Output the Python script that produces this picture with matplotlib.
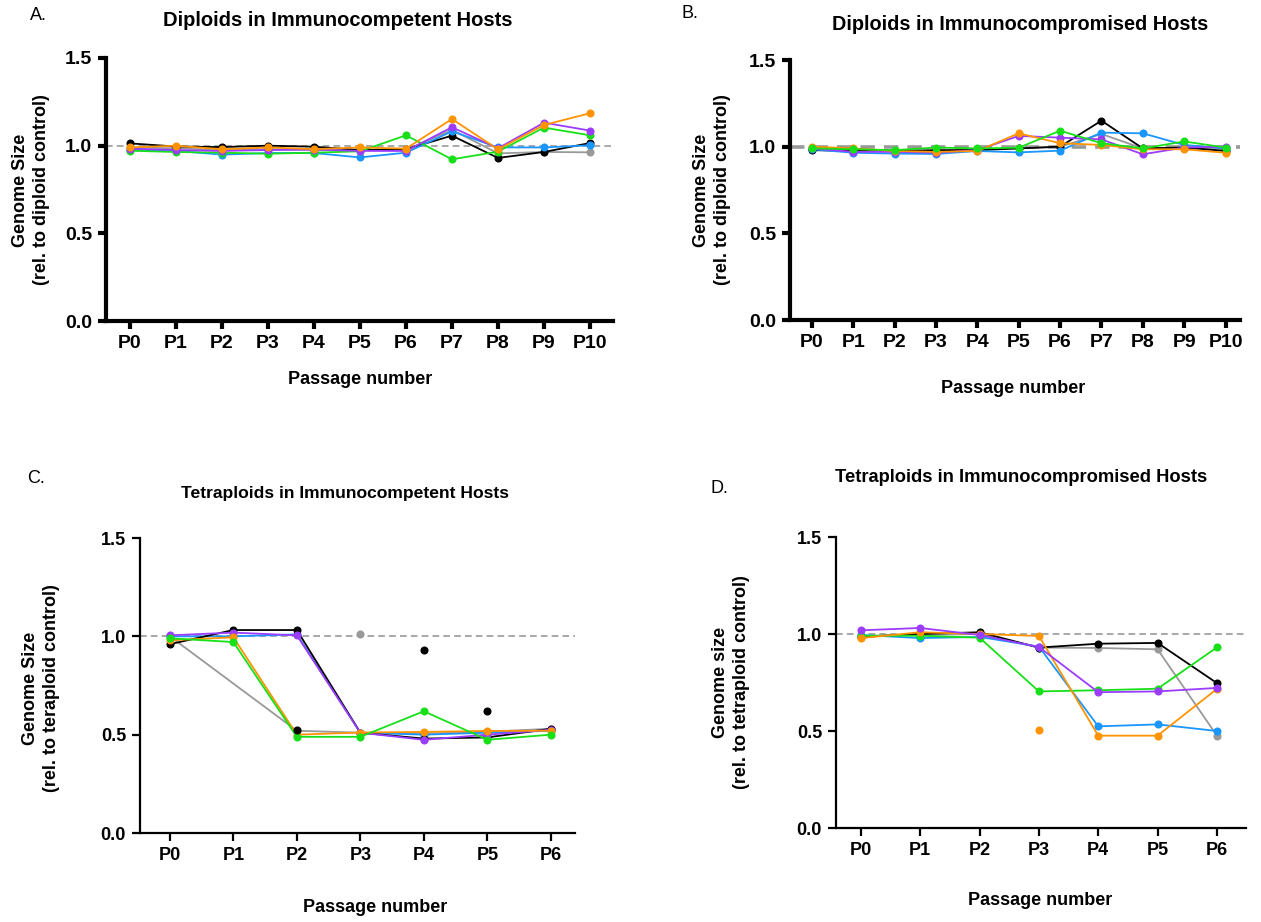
import numpy as np
import matplotlib.pyplot as plt

plt.rcParams['font.family'] = ['Liberation Sans', 'DejaVu Sans']
plt.rcParams['font.weight'] = 'bold'

nan = np.nan

# passage labels
dip_passages = ['P0', 'P1', 'P2', 'P3', 'P4', 'P5', 'P6', 'P7', 'P8', 'P9', 'P10']
tet_passages = ['P0', 'P1', 'P2', 'P3', 'P4', 'P5', 'P6']

colors = {'black': '#000000', 'gray': '#999999', 'orange': '#ff9300',
          'green': '#18e018', 'blue': '#1a96ff', 'purple': '#9b3cff'}

# A. diploids, immunocompetent hosts
dip_comp = {
    'gray':   [0.990, 0.985, 0.975, 0.980, 0.975, 0.975, 0.975, 1.090, 0.956, 0.964, 0.962],
    'black':  [1.013, 0.995, 0.992, 1.000, 0.994, 0.975, 0.980, 1.057, 0.930, 0.964, 1.015],
    'blue':   [0.978, 0.970, 0.949, 0.958, 0.958, 0.933, 0.960, 1.082, 0.990, 0.990, 1.002],
    'green':  [0.971, 0.964, 0.960, 0.954, 0.960, 0.968, 1.059, 0.922, 0.966, 1.103, 1.059],
    'purple': [0.983, 0.975, 0.970, 0.975, 0.978, 0.970, 0.970, 1.105, 0.985, 1.131, 1.086],
    'orange': [0.990, 1.000, 0.979, 0.990, 0.980, 0.990, 0.983, 1.152, 0.979, 1.118, 1.185],
}

# B. diploids, immunocompromised hosts
dip_compr = {
    'gray':   [0.985, 0.980, 0.980, 0.975, 0.985, 0.990, 1.000, 1.073, 0.990, 0.995, 0.985],
    'black':  [0.980, 0.975, 0.975, 0.980, 0.980, 0.990, 1.000, 1.150, 0.990, 0.995, 0.975],
    'blue':   [0.985, 0.965, 0.960, 0.958, 0.975, 0.967, 0.977, 1.081, 1.077, 1.010, 0.990],
    'purple': [0.990, 0.970, 0.970, 0.965, 0.980, 1.062, 1.052, 1.042, 0.956, 0.995, 1.000],
    'orange': [1.000, 0.990, 0.975, 0.970, 0.975, 1.077, 1.020, 1.010, 0.985, 0.985, 0.965],
    'green':  [0.990, 0.985, 0.980, 0.995, 0.990, 0.994, 1.092, 1.020, 0.990, 1.030, 0.995],
}

# C. tetraploids, immunocompetent hosts
tet_comp = {
    'gray':   [1.000, nan, 0.520, 0.510, 0.505, 0.515, 0.530],
    'blue':   [1.000, 1.000, 1.010, 0.510, 0.500, 0.510, 0.520],
    'black':  [0.960, 1.032, 1.032, 0.510, 0.480, 0.486, 0.530],
    'purple': [1.005, 1.019, 1.005, 0.510, 0.474, 0.500, 0.525],
    'orange': [0.980, 0.995, 0.500, 0.511, 0.514, 0.519, 0.520],
    'green':  [0.990, 0.971, 0.489, 0.489, 0.619, 0.474, 0.500],
}
tet_comp_single = [('black', 2, 0.523), ('gray', 3, 1.010),
                   ('black', 4, 0.930), ('black', 5, 0.618)]

# D. tetraploids, immunocompromised hosts
tet_compr = {
    'gray':   [0.990, 0.995, 1.000, 0.930, 0.928, 0.921, 0.476],
    'black':  [0.985, 1.000, 1.009, 0.930, 0.950, 0.954, 0.747],
    'blue':   [0.995, 0.979, 0.985, 0.935, 0.524, 0.534, 0.500],
    'green':  [0.991, 0.991, 0.981, 0.704, 0.710, 0.718, 0.931],
    'orange': [0.979, 1.009, 1.000, 0.990, 0.476, 0.476, 0.717],
    'purple': [1.019, 1.031, 0.995, 0.933, 0.700, 0.704, 0.722],
}
tet_compr_single = [('orange', 3, 0.503)]


def draw_panel(ax, labels, series, singles, xlim, spine_w, dash_w, fs):
    x = np.arange(len(labels))
    for name, vals in series.items():
        y = np.array(vals, dtype=float)
        ok = ~np.isnan(y)
        ax.plot(x[ok], y[ok], '-o', color=colors[name], lw=1.3, ms=4.8, zorder=3)
    for name, i, v in singles:
        ax.plot(x[i], v, 'o', color=colors[name], ms=4.8, zorder=3)
    ax.axhline(1.0, color='#999999', ls=(0, (4, 2.5)), lw=dash_w, zorder=2)

    ax.set_xlim(*xlim)
    ax.set_ylim(0, 1.5)
    ax.set_xticks(x)
    ax.set_xticklabels(labels)
    ax.set_yticks([0, 0.5, 1.0, 1.5])
    ax.set_yticklabels(['0.0', '0.5', '1.0', '1.5'])
    for s in ['top', 'right']:
        ax.spines[s].set_visible(False)
    for s in ['left', 'bottom']:
        ax.spines[s].set_linewidth(spine_w)
    ax.tick_params(width=spine_w, length=6, labelsize=fs, pad=4)
    for lab in ax.get_xticklabels() + ax.get_yticklabels():
        lab.set_fontweight('bold')
    for sp in ax.spines.values():
        sp.set_clip_on(False)


W, H = 1261, 922
fig = plt.figure(figsize=(W / 100, H / 100), dpi=100)


def box(left, top, right, bottom):
    return [left / W, 1 - bottom / H, (right - left) / W, (bottom - top) / H]


axA = fig.add_axes(box(106, 58, 613, 321))
axB = fig.add_axes(box(790, 60, 1240, 320))
axC = fig.add_axes(box(140, 538, 575, 833))
axD = fig.add_axes(box(836, 537, 1246, 828))

draw_panel(axA, dip_passages, dip_comp, [], (-0.52, 10.5), 3.0, 1.2, 14)
draw_panel(axB, dip_passages, dip_compr, [], (-0.53, 10.35), 3.0, 2.6, 14)
draw_panel(axC, tet_passages, tet_comp, tet_comp_single, (-0.47, 6.38), 1.6, 1.2, 13)
draw_panel(axD, tet_passages, tet_compr, tet_compr_single, (-0.42, 6.49), 1.6, 1.2, 13)


def ftext(x, y, s, **kw):
    fig.text(x / W, 1 - y / H, s, ha='center', va='center', **kw)


# panel letters
ftext(38, 15, 'A.', fontsize=13, fontweight='normal')
ftext(690, 13, 'B.', fontsize=13, fontweight='normal')
ftext(36, 478, 'C.', fontsize=13, fontweight='normal')
ftext(719, 488, 'D.', fontsize=13, fontweight='normal')

# titles
ftext(338, 20, 'Diploids in Immunocompetent Hosts', fontsize=14.5, fontweight='bold')
ftext(1020, 25, 'Diploids in Immunocompromised Hosts', fontsize=14.3, fontweight='bold')
ftext(345, 493, 'Tetraploids in Immunocompetent Hosts', fontsize=12.6, fontweight='bold')
ftext(1021, 477, 'Tetraploids in Immunocompromised Hosts', fontsize=13.2, fontweight='bold')

# y labels
ylab_kw = dict(fontsize=13, fontweight='bold', rotation=90, linespacing=1.3)
ftext(31, 190, 'Genome Size\n(rel. to diploid control)', **ylab_kw)
ftext(712, 190, 'Genome Size\n(rel. to diploid control)', **ylab_kw)
ftext(41, 688, 'Genome Size\n(rel. to teraploid control)', **ylab_kw)
ftext(731, 682, 'Genome size\n(rel. to tetraploid control)', **ylab_kw)

# x labels
ftext(360, 380, 'Passage number', fontsize=13, fontweight='bold')
ftext(1013, 388, 'Passage number', fontsize=13, fontweight='bold')
ftext(375, 907, 'Passage number', fontsize=13, fontweight='bold')
ftext(1040, 900, 'Passage number', fontsize=13, fontweight='bold')

fig.savefig('out.png', dpi=100)
